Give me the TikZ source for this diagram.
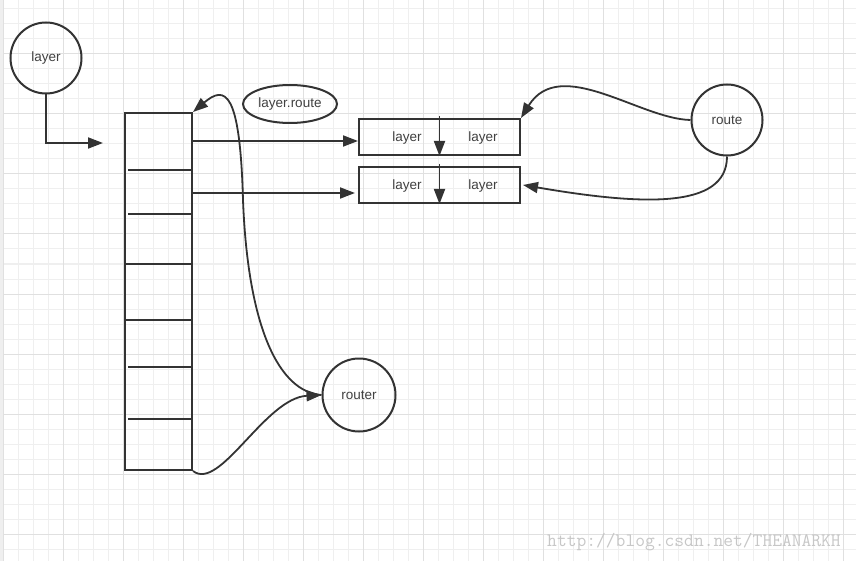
\documentclass[tikz,border=0pt]{standalone}
\usepackage{fontspec}
\setmainfont{Liberation Sans}
\usetikzlibrary{arrows.meta,shapes.geometric}
\definecolor{ink}{HTML}{333333}
\definecolor{gridminor}{HTML}{EFEFEF}
\definecolor{gridmajor}{HTML}{E0E0E0}
\definecolor{labelgray}{HTML}{404040}
\tikzset{
  shape line/.style={draw=ink,line width=2pt},
  blob/.style={shape line,circle,minimum size=71pt,inner sep=0pt,
    font=\fontsize{13.5}{15}\selectfont,text=labelgray},
  cell/.style={shape line,rectangle,minimum width=161pt,minimum height=36pt,inner sep=0pt},
  word/.style={font=\fontsize{13.5}{15}\selectfont,text=labelgray,yshift=-1.5pt},
  link/.style={ink,line width=1.8pt,-{Triangle[length=15pt,width=11pt,fill=ink]}}
}
\begin{document}
\begin{tikzpicture}[x=1pt,y=-1pt]
\useasboundingbox (0,0) rectangle (856,561);
% grid
\fill[white] (0,0) rectangle (856,561);
\foreach \gx in {3,18,...,855} \draw[gridminor,line width=1pt] (\gx,0) -- (\gx,561);
\foreach \gy in {9,24,...,560} \draw[gridminor,line width=1pt] (0,\gy) -- (856,\gy);
\foreach \gx in {3,63,...,855} \draw[gridmajor,line width=1pt] (\gx,0) -- (\gx,561);
\foreach \gy in {54,114,...,560} \draw[gridmajor,line width=1pt] (0,\gy) -- (856,\gy);
\fill[gridminor] (0,0) rectangle (3,561);

\node[blob] (layer) at (46,58) {layer};
\node[blob] (route) at (727,120) {route};
\node[blob,minimum size=73pt] (router) at (359,395) {router};
\node[shape line,ellipse,minimum width=94pt,minimum height=38pt,inner sep=0pt,
  font=\fontsize{13.5}{15}\selectfont,text=labelgray] (lroute) at (290,104) {layer.route};

\node[shape line,rectangle,minimum width=67pt,minimum height=357pt,inner sep=0pt] (stack) at (158.5,291.5) {};
\foreach \sy in {264,320} \draw[shape line] (125,\sy) -- (192,\sy);
\foreach \sy in {170,214,367,419} \draw[shape line] (128,\sy) -- (191,\sy);

\node[cell] (cellA) at (439.5,137) {};
\node[cell] (cellB) at (439.5,185) {};
\node[word] (wA1) at (407,137) {layer};
\node[word] (wA2) at (483,137) {layer};
\node[word] (wB1) at (407,185) {layer};
\node[word] (wB2) at (483,185) {layer};

\coordinate (stackin) at (103,143);
\coordinate (rowA) at (0,141);
\coordinate (rowB) at (0,193);

\draw[link] (layer.south) |- (stackin);
\draw[link] (stack.east |- rowA) -- (cellA.west |- rowA);
\draw[link,shorten >=3pt] (stack.east |- rowB) -- (cellB.west |- rowB);
\draw[link] ([yshift=2pt]cellA.north) -- (cellA.south);
\draw[link] ([yshift=2pt]cellB.north) -- (cellB.south);

\draw[link] (route.west) .. controls (640,119) and (560,55) .. (cellA.north east);
\draw[link] (route.south) .. controls (727,210) and (640,205) .. ([xshift=2pt]cellB.east);

\draw[link] (router.west) .. controls (280,392) and (248,330) .. (243,200)
  .. controls (240,90) and (225,85) .. (stack.north east);
\draw[link] (stack.south east) .. controls (220,492) and (265,398) .. (router.west);

\node[font=\ttfamily\fontsize{19}{20}\selectfont,text=black!22] (mark) at (694,542) {http://blog.csdn.net/THEANARKH};
\end{tikzpicture}
\end{document}
